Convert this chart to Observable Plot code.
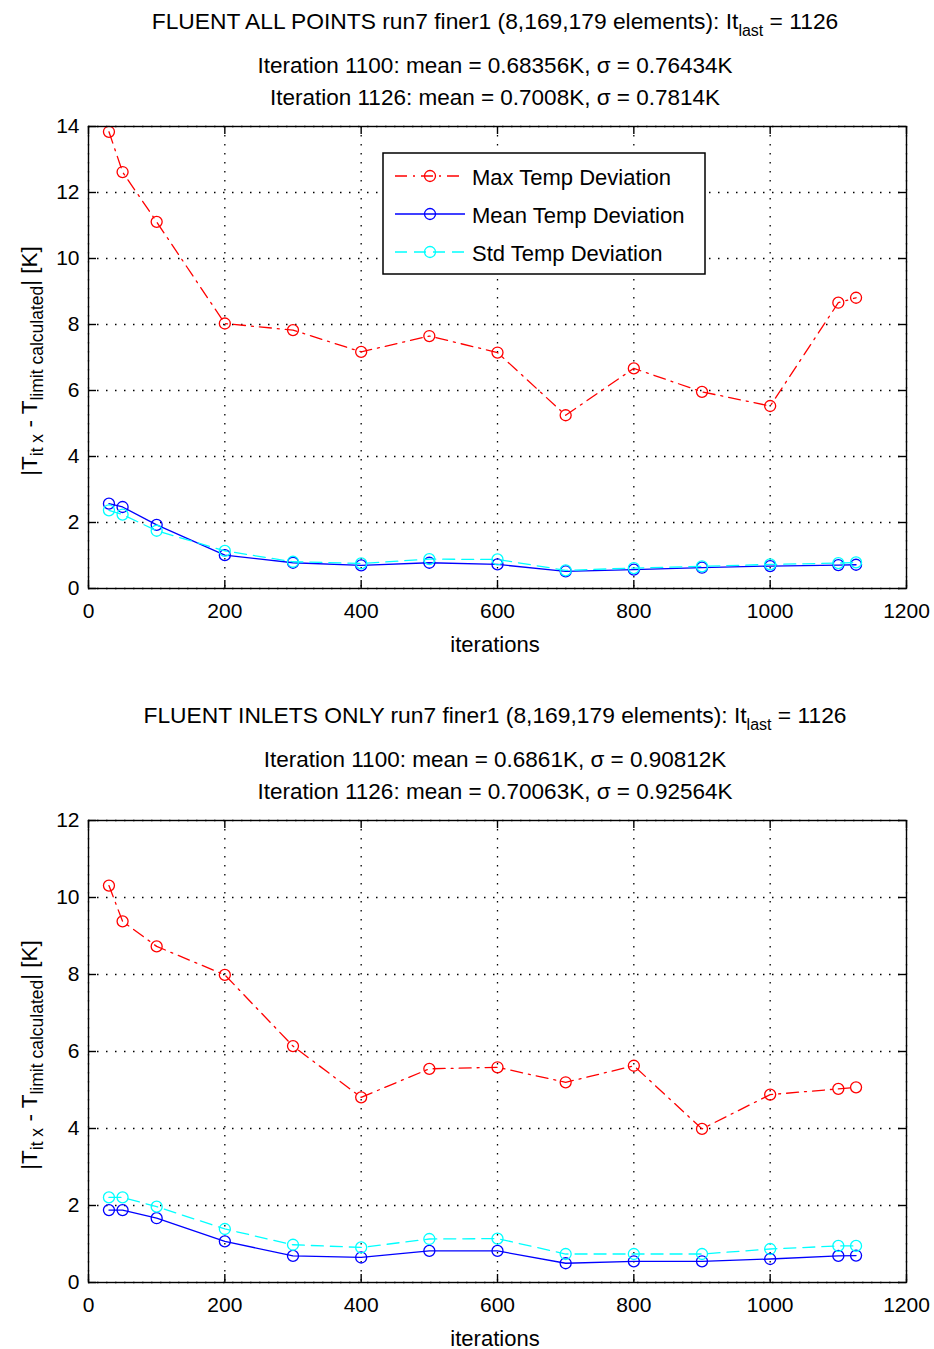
<!DOCTYPE html>
<html><head><meta charset="utf-8">
<script src="https://cdn.jsdelivr.net/npm/d3@7"></script>
<script src="https://cdn.jsdelivr.net/npm/@observablehq/plot@0.6"></script>
<style>html,body{margin:0;padding:0;background:#fff;} #chart svg{display:block;}</style>
</head><body><div id="chart"></div>
<script>
// ---- data ----
const iterations = [30, 50, 100, 200, 300, 400, 500, 600, 700, 800, 900, 1000, 1100, 1126];

const allMax  = [13.84, 12.62, 11.11, 8.03, 7.83, 7.17, 7.65, 7.15, 5.25, 6.67, 5.96, 5.53, 8.66, 8.81];
const allMean = [2.57, 2.47, 1.93, 1.01, 0.78, 0.70, 0.78, 0.73, 0.52, 0.57, 0.63, 0.68, 0.71, 0.72];
const allStd  = [2.37, 2.24, 1.75, 1.14, 0.81, 0.76, 0.89, 0.88, 0.55, 0.62, 0.67, 0.73, 0.77, 0.79];

const inletMax  = [10.31, 9.38, 8.73, 7.99, 6.14, 4.81, 5.55, 5.59, 5.20, 5.63, 3.99, 4.88, 5.03, 5.07];
const inletMean = [1.88, 1.88, 1.67, 1.07, 0.69, 0.65, 0.82, 0.82, 0.50, 0.55, 0.55, 0.61, 0.69, 0.70];
const inletStd  = [2.21, 2.21, 1.97, 1.39, 0.98, 0.91, 1.13, 1.14, 0.74, 0.74, 0.74, 0.87, 0.95, 0.95];

const xTicks = [0, 200, 400, 600, 800, 1000, 1200];
const xTickLabels = ["0", "200", "400", "600", "800", "1000", "1200"];
const yTicksAll = [0, 2, 4, 6, 8, 10, 12, 14];
const yTicksInlets = [0, 2, 4, 6, 8, 10, 12];

const seriesNames = ["Max Temp Deviation", "Mean Temp Deviation", "Std Temp Deviation"];
const titlesAll = [
  ["FLUENT ALL POINTS run7 finer1 (8,169,179 elements): It", "last", " = 1126"],
  "Iteration 1100: mean = 0.68356K, \u03c3 = 0.76434K",
  "Iteration 1126: mean = 0.7008K, \u03c3 = 0.7814K"
];
const titlesInlets = [
  ["FLUENT INLETS ONLY run7 finer1 (8,169,179 elements): It", "last", " = 1126"],
  "Iteration 1100: mean = 0.6861K, \u03c3 = 0.90812K",
  "Iteration 1126: mean = 0.70063K, \u03c3 = 0.92564K"
];
const xLabel = "iterations";

// ---- styles ----
const FONT = '"Liberation Sans", Arial, Helvetica, sans-serif';
const W = 934;
const styles = [
  {stroke: "#ff0000", dash: "12,6,2,6"},
  {stroke: "#0000ff", dash: null},
  {stroke: "#00ffff", dash: "12,7"}
];

function chart(cfg) {
  const {series, yTicks, yDomain, height, marginTop, marginBottom, titles, showLegend} = cfg;
  const marginLeft = 88, marginRight = 28;
  const plotW = W - marginLeft - marginRight;
  const plotH = height - marginTop - marginBottom;
  const rows = vals => iterations.map((x, i) => ({x, y: vals[i]}));
  const lineMarks = [];
  series.forEach((vals, k) => {
    const s = styles[k];
    lineMarks.push(Plot.line(rows(vals), {x: "x", y: "y", stroke: s.stroke, strokeWidth: 1.3,
      strokeDasharray: s.dash || undefined}));
    lineMarks.push(Plot.dot(rows(vals), {x: "x", y: "y", r: 5.5, stroke: s.stroke, fill: "none", strokeWidth: 1.3}));
  });
  const svg = Plot.plot({
    width: W, height, marginTop, marginBottom, marginLeft, marginRight,
    style: {fontFamily: FONT, fontSize: "21px", color: "black", background: "white", overflow: "visible"},
    x: {domain: [0, 1200]},
    y: {domain: yDomain},
    marks: [
      Plot.gridX({ticks: xTicks, stroke: "black", strokeOpacity: 1, strokeWidth: 1.3, strokeDasharray: "1.5,7.5"}),
      Plot.gridY({ticks: yTicks, stroke: "black", strokeOpacity: 1, strokeWidth: 1.3, strokeDasharray: "1.5,7.5"}),
      ...lineMarks,
      Plot.frame({stroke: "black", strokeWidth: 1.4}),
      Plot.tickX(xTicks, {x: d => d, insetTop: plotH - 8, stroke: "black", strokeWidth: 1.4}),
      Plot.tickX(xTicks, {x: d => d, insetBottom: plotH - 8, stroke: "black", strokeWidth: 1.4}),
      Plot.tickY(yTicks, {y: d => d, insetRight: plotW - 8, stroke: "black", strokeWidth: 1.4}),
      Plot.tickY(yTicks, {y: d => d, insetLeft: plotW - 8, stroke: "black", strokeWidth: 1.4}),
      Plot.axisX({ticks: xTicks, tickSize: 0, tickPadding: 15, label: null, fontSize: 21,
        tickFormat: d => xTickLabels[xTicks.indexOf(d)]}),
      Plot.axisY({ticks: yTicks, tickSize: 0, tickPadding: 9, label: null, fontSize: 21,
        tickFormat: d => String(d)})
    ]
  });
  const g = d3.select(svg).append("g").attr("font-family", FONT).attr("fill", "black");
  const cx = marginLeft + plotW / 2;
  // titles
  const t1 = g.append("text").attr("x", cx - 2).attr("y", marginTop - 97).attr("text-anchor", "middle").attr("font-size", 22.8);
  t1.append("tspan").text(titles[0][0]);
  t1.append("tspan").attr("dy", 7).attr("font-size", 16).text(titles[0][1]);
  t1.append("tspan").attr("dy", -7).text(titles[0][2]);
  g.append("text").attr("x", cx - 2).attr("y", marginTop - 53).attr("text-anchor", "middle").attr("font-size", 22.5).text(titles[1]);
  g.append("text").attr("x", cx - 2).attr("y", marginTop - 21).attr("text-anchor", "middle").attr("font-size", 22.5).text(titles[2]);
  // x label
  g.append("text").attr("x", cx - 2).attr("y", marginTop + plotH + 64).attr("text-anchor", "middle").attr("font-size", 22).text(xLabel);
  // y label
  const yl = g.append("text").attr("transform", `translate(37,${marginTop + plotH / 2 + 4}) rotate(-90)`)
    .attr("text-anchor", "middle").attr("font-size", 22.5);
  yl.append("tspan").text("|T");
  yl.append("tspan").attr("dy", 6).attr("font-size", 17.5).text("it x");
  yl.append("tspan").attr("dy", -6).text(" - T");
  yl.append("tspan").attr("dy", 6).attr("font-size", 17.5).text("limit calculated");
  yl.append("tspan").attr("dy", -6).text("| [K]");
  // legend
  if (showLegend) {
    const lg = g.append("g");
    lg.append("rect").attr("x", 383).attr("y", 153).attr("width", 322).attr("height", 121)
      .attr("fill", "white").attr("stroke", "black").attr("stroke-width", 1.5);
    const ys = [176, 214, 252];
    seriesNames.forEach((name, k) => {
      const s = styles[k], y = ys[k];
      lg.append("line").attr("x1", 395).attr("x2", 465).attr("y1", y).attr("y2", y)
        .attr("stroke", s.stroke).attr("stroke-width", 1.3).attr("stroke-dasharray", s.dash || null);
      lg.append("circle").attr("cx", 430).attr("cy", y).attr("r", 5.5).attr("fill", "none")
        .attr("stroke", s.stroke).attr("stroke-width", 1.3);
      lg.append("text").attr("x", 472).attr("y", y + 9).attr("text-anchor", "start")
        .attr("font-size", 22).text(name);
    });
  }
  return svg;
}

const root = document.getElementById("chart");
root.appendChild(chart({series: [allMax, allMean, allStd], yTicks: yTicksAll, yDomain: [0, 14],
  height: 676, marginTop: 126, marginBottom: 88, titles: titlesAll, showLegend: true}));
root.appendChild(chart({series: [inletMax, inletMean, inletStd], yTicks: yTicksInlets, yDomain: [0, 12],
  height: 673, marginTop: 144, marginBottom: 67, titles: titlesInlets, showLegend: false}));
</script></body></html>
